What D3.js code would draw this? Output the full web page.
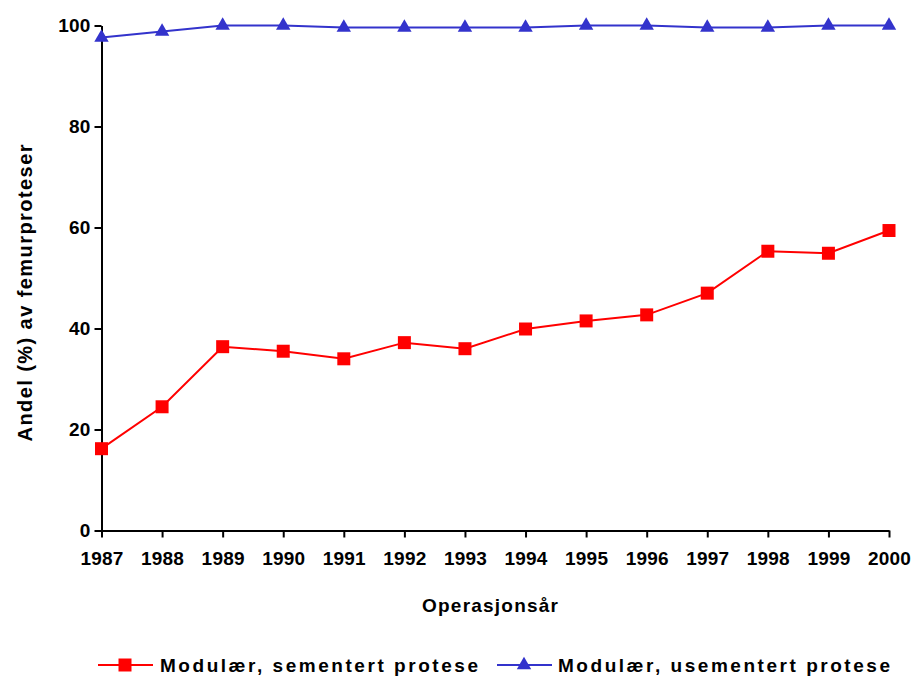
<!DOCTYPE html>
<html>
<head>
<meta charset="utf-8">
<script src="https://cdn.jsdelivr.net/npm/d3@7"></script>
<style>
body { margin: 0; background: #fff; }
text { font-family: "Liberation Sans", Arial, sans-serif; font-weight: bold; fill: #000; }
</style>
</head>
<body>
<script>
var years = [1987, 1988, 1989, 1990, 1991, 1992, 1993, 1994, 1995, 1996, 1997, 1998, 1999, 2000];
var sementert = [16.2, 24.5, 36.4, 35.5, 34.0, 37.2, 36.0, 39.9, 41.5, 42.7, 47.0, 55.3, 54.9, 59.4];
var usementert = [97.6, 98.8, 100, 100, 99.6, 99.6, 99.6, 99.6, 100, 100, 99.6, 99.6, 100, 100];
var yTicks = [0, 20, 40, 60, 80, 100];
var seriesNames = ["Modulær, sementert protese", "Modulær, usementert protese"];

var width = 917, height = 677;
var margin = {top: 25.5, right: 28, bottom: 146.5, left: 101.5};

var svg = d3.select("body").append("svg")
    .attr("width", width)
    .attr("height", height);

var x = d3.scaleLinear()
    .domain([years[0], years[years.length - 1]])
    .range([margin.left, width - margin.right]);

var y = d3.scaleLinear()
    .domain([0, 100])
    .range([height - margin.bottom, margin.top]);

var series = [
  {name: seriesNames[0], values: sementert, color: "#ff0000", symbol: d3.symbolSquare, size: 169},
  {name: seriesNames[1], values: usementert, color: "#3333cc", symbol: d3.symbolTriangle, size: 90}
];

var xAxis = d3.axisBottom(x)
    .tickValues(years)
    .tickFormat(d3.format("d"))
    .tickSize(7)
    .tickSizeOuter(0)
    .tickPadding(10);

var yAxis = d3.axisLeft(y)
    .tickValues(yTicks)
    .tickSize(7)
    .tickSizeOuter(0)
    .tickPadding(4);

var gx = svg.append("g")
    .attr("transform", "translate(0," + y(0) + ")")
    .call(xAxis);

var gy = svg.append("g")
    .attr("transform", "translate(" + margin.left + ",0)")
    .call(yAxis);

[gx, gy].forEach(function(g) {
  g.select(".domain").attr("stroke", "#000").attr("stroke-width", 2);
  g.selectAll(".tick line").attr("stroke", "#000").attr("stroke-width", 2);
  g.selectAll(".tick text")
      .attr("fill", "#000")
      .style("font-size", "19px")
      .style("font-family", "'Liberation Sans', Arial, sans-serif")
      .style("font-weight", "bold")
      .style("letter-spacing", "0.2px");
});
gx.selectAll(".tick text").attr("dy", "0.9em");

var line = d3.line()
    .x(function(d, i) { return x(years[i]); })
    .y(function(d) { return y(d); });

series.forEach(function(s) {
  svg.append("path")
      .datum(s.values)
      .attr("fill", "none")
      .attr("stroke", s.color)
      .attr("stroke-width", 2)
      .attr("d", line);

  svg.selectAll(null)
      .data(s.values)
      .enter().append("path")
      .attr("transform", function(d, i) { return "translate(" + x(years[i]) + "," + y(d) + ")"; })
      .attr("d", d3.symbol().type(s.symbol).size(s.size))
      .attr("fill", s.color);
});

// axis titles
svg.append("text")
    .attr("x", 490)
    .attr("y", 612)
    .attr("text-anchor", "middle")
    .attr("textLength", 136)
    .attr("lengthAdjust", "spacing")
    .style("font-size", "19px")
    .text("Operasjonsår");

svg.append("text")
    .attr("transform", "translate(32,293) rotate(-90)")
    .attr("text-anchor", "middle")
    .attr("textLength", 297)
    .attr("lengthAdjust", "spacing")
    .style("font-size", "20px")
    .text("Andel (%) av femurproteser");

// legend
var legend = [
  {lx: 98, tx: 160, tw: 318},
  {lx: 497, tx: 558, tw: 332}
];
series.forEach(function(s, i) {
  var L = legend[i], ly = 665;
  svg.append("line")
      .attr("x1", L.lx).attr("x2", L.lx + 55)
      .attr("y1", ly).attr("y2", ly)
      .attr("stroke", s.color)
      .attr("stroke-width", 2);
  svg.append("path")
      .attr("transform", "translate(" + (L.lx + 27) + "," + ly + ")")
      .attr("d", d3.symbol().type(s.symbol).size(s.size))
      .attr("fill", s.color);
  svg.append("text")
      .attr("x", L.tx)
      .attr("y", 672)
      .attr("textLength", L.tw)
      .attr("lengthAdjust", "spacing")
      .style("font-size", "19px")
      .text(s.name);
});
</script>
</body>
</html>
